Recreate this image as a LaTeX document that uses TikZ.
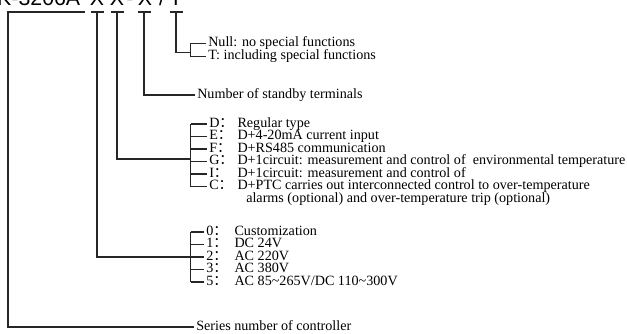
\documentclass[tikz,border=0pt]{standalone}
\usepackage{fontspec}
\setmainfont{Liberation Serif}
\newfontfamily\hdfont{Liberation Sans}
\newfontfamily\cjk{Noto Sans CJK SC}
\usetikzlibrary{calc}
% full-width colon and fixed label box
\newcommand\fcol{{\cjk ：}}
\newcommand\lbl[1]{\makebox[2.0em][l]{#1\fcol}}

\begin{document}
\begin{tikzpicture}[x=0.75pt,y=-0.75pt,
wire/.style={draw=black!85,line width=0.9pt},
item/.style={anchor=west,inner xsep=1.5pt,inner ysep=0pt,text height=0.62em,text depth=0.16em,font=\fontsize{10.6}{11}\selectfont},
code/.style={anchor=base,inner sep=0pt,font=\hdfont\fontsize{16}{16}\selectfont}]
\useasboundingbox (0,0) rectangle (627,333);

% model code, cut by the top edge
\begin{scope}
\clip (0,0) rectangle (627,333);
\node[code,anchor=base east] (t0) at (80.5,5) {K-3206A};
\node[code] (t1) at (97,5) {X};
\node[code] (t2) at (117,5) {X};
\node[code] (t3) at (130,5) {-};
\node[code] (t4) at (145,5) {X};
\node[code] (t5) at (162,5) {/};
\node[code] (t6) at (176,5) {T};
\end{scope}

% column heads
\coordinate (p0) at (8,12);
\coordinate (p1) at (97,12);
\coordinate (p2) at (117,12);
\coordinate (p3) at (144,12);
\coordinate (p4) at (176,12);
\coordinate (bx) at (190.5,0);
\draw[wire] (7,12) -- (85,12);
\foreach \p in {p1,p2,p3,p4}
  \draw[wire] (\p) ++(-6.5,0) -- ++(13,0);

% special functions
\node[item] (null) at (206,43.5) {Null: no special functions};
\node[item] (tt) at (206,56.5) {T: including special functions};
\draw[wire] (null.west) -- (null.west -| bx) -- (tt.west -| bx) -- (tt.west);
\draw[wire] (p4) |- ($(null.west -| bx)!0.7!(tt.west -| bx)$);

% standby terminals
\node[item] (num) at (195,95) {Number of standby terminals};
\draw[wire] (p3) |- (num.west);

% type
\node[item] (d) at (207,124) {\lbl{D}Regular type};
\node[item] (e) at (207,136.5) {\lbl{E}D+4-20mA current input};
\node[item] (f) at (207,149) {\lbl{F}D+RS485 communication};
\node[item] (g) at (207,161.5) {\lbl{G}D+1circuit: measurement and control of\ \ environmental temperature};
\node[item] (i) at (207,174) {\lbl{I}D+1circuit: measurement and control of};
\node[item] (c) at (207,186.5) {\lbl{C}D+PTC carries out interconnected control to over-temperature};
\node[item] (c2) at (244,199) {alarms (optional) and over-temperature trip (optional)};
\foreach \n in {d,e,f,g,i,c}
  \draw[wire] (\n.west -| bx) -- (\n.west);
\draw[wire] (d.west -| bx) -- (c.west -| bx);
\draw[wire] (p2) |- ($(f.west -| bx)!0.8!(g.west -| bx)$);

% supply
\node[item] (n0) at (204,232) {\lbl{0}Customization};
\node[item] (n1) at (204,244.5) {\lbl{1}DC 24V};
\node[item] (n2) at (204,257) {\lbl{2}AC 220V};
\node[item] (n3) at (204,269.5) {\lbl{3}AC 380V};
\node[item] (n5) at (204,282) {\lbl{5}AC 85\textasciitilde265V/DC 110\textasciitilde300V};
\foreach \n in {n0,n1,n2,n3,n5}
  \draw[wire] (\n.west -| bx) -- (\n.west);
\draw[wire] (n0.west -| bx) -- (n5.west -| bx);
\draw[wire] (p1) |- (n2.west);

% series
\node[item] (ser) at (194,327) {Series number of controller};
\draw[wire] (p0) |- (ser.west);
\end{tikzpicture}
\end{document}
